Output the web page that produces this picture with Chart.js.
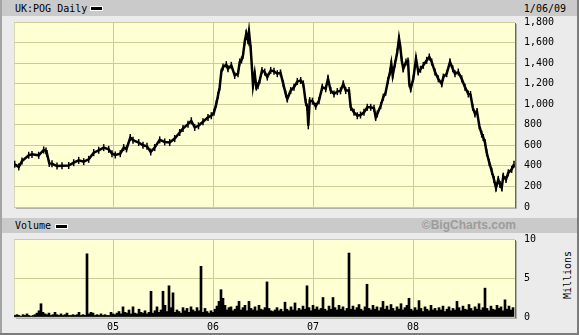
<!DOCTYPE html>
<html>
<head>
<meta charset="utf-8">
<script src="https://cdn.jsdelivr.net/npm/chart.js@4.4.1/dist/chart.umd.min.js"></script>
<style>
  html, body { margin: 0; padding: 0; background: #fff; }
  #wrap { position: relative; width: 579px; height: 335px; background: #ebebeb; overflow: hidden;
          font-family: "DejaVu Sans Mono", monospace; font-size: 10px; color: #000; }
  .abs { position: absolute; }
  .hdr { position: absolute; left: 2px; right: 2px; background: #cacaca; }
  .plot { position: absolute; background: #ffffd4;
          border-top: 1px solid #d8d8b8; border-left: 1px solid #d8d8b8; box-sizing: border-box;
          box-shadow: 1px 1px 0 #666, 2px 2px 0 #b0b0b0; }
  .swatch { position: absolute; width: 11px; height: 3px; background: #000; border: 1px solid #fff; }
  canvas { position: absolute; left: 0; top: 0; }
</style>
</head>
<body>
<div id="wrap">
  <div class="hdr" style="top:0;height:16px"></div>
  <div class="hdr" style="top:218px;height:15px"></div>
  <div class="abs" style="left:0;top:0;width:2px;height:335px;background:#a4a4a4"></div>
  <div class="abs" style="right:0;top:0;width:2px;height:335px;background:#7c7c7c"></div>
  <div class="abs" style="left:0;bottom:0;width:579px;height:2px;background:#7c7c7c"></div>

  <div class="plot" style="left:14px;top:22px;width:501px;height:185px"></div>
  <div class="plot" style="left:14px;top:239px;width:501px;height:78px"></div>

  <div class="abs" style="left:15px;top:1px;line-height:16px">UK:POG Daily</div>
  <div class="swatch" style="left:90px;top:6px"></div>
  <div class="abs" style="right:13px;top:1px;line-height:16px">1/06/09</div>

  <div class="abs" style="left:15px;top:218px;line-height:16px">Volume</div>
  <div class="swatch" style="left:55px;top:224px"></div>
  <div class="abs" style="right:63px;top:218px;line-height:15px;font-family:'Liberation Sans',Arial,sans-serif;font-weight:bold;font-size:12px;color:#9c9c9c">&copy;BigCharts.com</div>

  <div class="abs" style="left:567px;top:275px;transform:translate(-50%,-50%) rotate(-90deg);white-space:nowrap">Millions</div>

  <canvas id="price" width="579" height="335"></canvas>
  <canvas id="volume" width="579" height="335"></canvas>
</div>

<script>
// price, pence (daily close, sampled), dates as decimal years
const priceDates = [
  2004.017, 2004.057, 2004.090, 2004.157, 2004.190, 2004.257, 2004.307, 2004.330, 2004.340, 2004.363,
  2004.390, 2004.440, 2004.490, 2004.557, 2004.607, 2004.657, 2004.707, 2004.757, 2004.807, 2004.857,
  2004.907, 2004.957, 2004.990, 2005.023, 2005.073, 2005.107, 2005.135, 2005.173, 2005.200, 2005.257,
  2005.300, 2005.340, 2005.377, 2005.417, 2005.467, 2005.517, 2005.567, 2005.617, 2005.667, 2005.700,
  2005.750, 2005.783, 2005.817, 2005.855, 2005.900, 2005.950, 2005.983, 2006.010, 2006.033, 2006.050,
  2006.067, 2006.083, 2006.100, 2006.133, 2006.150, 2006.183, 2006.217, 2006.250, 2006.267, 2006.285,
  2006.300, 2006.317, 2006.333, 2006.350, 2006.360, 2006.377, 2006.390, 2006.400, 2006.417, 2006.433,
  2006.450, 2006.467, 2006.490, 2006.517, 2006.543, 2006.577, 2006.610, 2006.643, 2006.675, 2006.703,
  2006.727, 2006.743, 2006.777, 2006.810, 2006.843, 2006.877, 2006.903, 2006.927, 2006.943, 2006.953,
  2006.967, 2006.995, 2007.027, 2007.060, 2007.093, 2007.127, 2007.150, 2007.177, 2007.210, 2007.243,
  2007.275, 2007.303, 2007.327, 2007.360, 2007.377, 2007.410, 2007.443, 2007.475, 2007.510, 2007.543,
  2007.577, 2007.610, 2007.627, 2007.643, 2007.677, 2007.703, 2007.727, 2007.750, 2007.770, 2007.783,
  2007.797, 2007.820, 2007.843, 2007.860, 2007.873, 2007.887, 2007.903, 2007.930, 2007.950, 2007.963,
  2007.977, 2008.003, 2008.030, 2008.053, 2008.075, 2008.103, 2008.137, 2008.163, 2008.187, 2008.220,
  2008.253, 2008.287, 2008.303, 2008.337, 2008.370, 2008.397, 2008.420, 2008.453, 2008.487, 2008.520,
  2008.553, 2008.575, 2008.597, 2008.620, 2008.640, 2008.663, 2008.687, 2008.703, 2008.720, 2008.737,
  2008.763, 2008.787, 2008.810, 2008.830, 2008.853, 2008.870, 2008.887, 2008.903, 2008.930, 2008.953,
  2008.987, 2009.010
];
const priceValues = [
  415, 390, 447, 503, 512, 503, 555, 545, 520, 424,
  420, 398, 402, 404, 431, 454, 441, 464, 529, 552,
  578, 561, 519, 506, 519, 578, 565, 676, 650, 627,
  601, 590, 535, 578, 653, 633, 627, 666, 725, 764,
  806, 839, 774, 790, 829, 872, 888, 921, 1003, 1084,
  1166, 1313, 1362, 1385, 1345, 1378, 1280, 1297, 1411, 1430,
  1476, 1607, 1689, 1623, 1705, 1542, 1345, 1182, 1297, 1166,
  1180, 1231, 1329, 1313, 1264, 1329, 1320, 1297, 1305, 1198,
  1100, 1051, 1133, 1166, 1221, 1231, 1198, 1019, 970, 790,
  1035, 1030, 980, 1035, 1166, 1150, 1247, 1133, 1100, 1123,
  1130, 1198, 1133, 1133, 970, 921, 888, 895, 921, 970,
  970, 960, 872, 905, 986, 1068, 1117, 1231, 1313, 1394,
  1280, 1394, 1509, 1640, 1560, 1427, 1345, 1411, 1420, 1198,
  1150, 1247, 1444, 1313, 1340, 1378, 1427, 1460, 1411, 1313,
  1247, 1198, 1264, 1297, 1411, 1345, 1297, 1313, 1247, 1166,
  1100, 1095, 970, 905, 930, 790, 709, 676, 627, 529,
  431, 349, 268, 186, 268, 219, 186, 300, 268, 333,
  366, 415
];

// volume in millions, one value per ~week starting early Jan 2004
const volumeStart = 2004.02;
const volumeStep = 0.02;
const volumeValues = [
  0.2, 0.3, 0.2, 0.1, 0.3, 0.2, 0.4, 0.2, 0.1, 0.2,
  0.3, 0.5, 0.8, 1.7, 0.6, 0.4, 0.3, 0.5, 0.2, 0.3,
  0.6, 0.3, 0.2, 0.4, 0.2, 0.3, 0.5, 0.2, 0.2, 0.3,
  0.2, 0.3, 0.6, 0.2, 0.3, 0.2, 8.1, 0.4, 0.6, 0.5,
  0.2, 0.3, 0.2, 0.4, 0.2, 0.3, 0.2, 0.2, 0.6, 0.4,
  0.3, 0.5, 0.7, 0.4, 1.3, 0.6, 0.5, 0.9, 0.4, 1.3,
  0.5, 0.4, 1.0, 0.6, 0.5, 0.8, 0.4, 0.6, 3.3, 0.5,
  0.8, 1.3, 0.6, 0.9, 3.3, 1.5, 0.7, 4.0, 1.2, 3.1,
  0.6, 0.9, 0.7, 0.5, 1.2, 0.8, 1.1, 0.6, 1.3, 0.9,
  0.7, 1.2, 0.8, 6.5, 0.6, 1.1, 0.7, 0.5, 0.8, 0.6,
  1.0, 1.4, 2.0, 3.5, 2.4, 1.5, 0.9, 1.2, 1.3, 0.8,
  1.0, 1.4, 2.0, 0.9, 1.2, 1.5, 0.8, 2.0, 1.1, 0.9,
  1.3, 0.8, 1.5, 1.0, 0.9, 1.2, 4.5, 1.1, 0.8, 0.7,
  0.9, 1.2, 0.8, 1.0, 0.7, 1.9, 1.0, 0.8, 1.3, 0.9,
  1.8, 0.8, 1.1, 0.9, 1.4, 1.0, 4.0, 1.2, 0.8, 1.5,
  1.0, 1.3, 0.9, 1.1, 2.5, 1.0, 0.8, 1.4, 1.0, 2.5,
  1.2, 0.9, 1.5, 1.0, 1.3, 0.8, 1.1, 8.2, 1.0, 1.4,
  0.9, 1.2, 1.6, 1.0, 0.8, 1.3, 4.2, 1.1, 0.9, 1.5,
  1.0, 1.3, 0.8, 1.2, 2.0, 1.0, 1.4, 0.9, 1.6, 1.1,
  0.8, 1.3, 1.0, 1.7, 0.9, 1.2, 1.5, 2.4, 1.0, 0.8,
  1.2, 0.9, 2.1, 1.1, 0.7, 1.3, 1.0, 0.8, 1.5, 0.9,
  1.1, 0.8, 1.2, 0.9, 1.4, 0.7, 1.0, 1.3, 0.8, 1.1,
  0.9, 2.0, 1.2, 0.8, 1.4, 1.0, 0.9, 1.6, 1.1, 0.8,
  1.3, 1.0, 1.7, 0.9, 1.2, 3.7, 1.1, 0.8, 1.4, 1.0,
  0.9, 1.5, 1.1, 1.3, 0.8, 2.2, 1.0, 1.4, 0.9, 1.2
];

const yearTicks = [2005, 2006, 2007, 2008];
const priceTicks = [0, 200, 400, 600, 800, 1000, 1200, 1400, 1600, 1800];
const volumeTicks = [0, 5, 10];
const xMin = 2004.01;
const xMax = 2009.02;

const gridColor = "#cccc99";
const tickFont = { family: "DejaVu Sans Mono", size: 10 };

function fixedTicks(list) {
  return function (scale) {
    scale.ticks = list.map(function (v) { return { value: v }; });
  };
}

new Chart(document.getElementById("price"), {
  type: "line",
  data: {
    datasets: [{
      data: priceDates.map(function (d, i) { return { x: d, y: priceValues[i] }; }),
      borderColor: "#000",
      borderWidth: 2.5,
      // short vertical ticks on each sample, like the daily high-low bars
      pointStyle: "line",
      rotation: 90,
      pointRadius: 3.5,
      pointBorderWidth: 1.5,
      pointBorderColor: "#000",
      tension: 0,
    }],
  },
  options: {
    responsive: false,
    animation: false,
    layout: { padding: { left: 14, top: 22, right: 0, bottom: 128 } },
    plugins: { legend: { display: false }, tooltip: { enabled: false } },
    scales: {
      x: {
        type: "linear", min: xMin, max: xMax, offset: false,
        afterBuildTicks: fixedTicks(yearTicks),
        afterFit: function (s) { s.height = 0; },
        ticks: { display: false },
        grid: { color: gridColor, drawTicks: false },
        border: { display: false },
      },
      y: {
        position: "right", min: 0, max: 1800,
        afterBuildTicks: fixedTicks(priceTicks),
        afterFit: function (s) { s.width = 64; },
        ticks: {
          padding: 9, color: "#000", font: tickFont,
          callback: function (v) { return v.toLocaleString("en-US"); },
        },
        grid: { color: gridColor, drawTicks: false },
        border: { display: false },
      },
    },
  },
});

new Chart(document.getElementById("volume"), {
  type: "bar",
  data: {
    datasets: [{
      data: volumeValues.map(function (v, i) { return { x: volumeStart + i * volumeStep, y: v }; }),
      backgroundColor: "#000",
      borderWidth: 0,
      barPercentage: 1,
      categoryPercentage: 1,
    }],
  },
  options: {
    responsive: false,
    animation: false,
    layout: { padding: { left: 14, top: 239, right: 0, bottom: 0 } },
    plugins: { legend: { display: false }, tooltip: { enabled: false } },
    scales: {
      x: {
        type: "linear", min: xMin, max: xMax, offset: false,
        afterBuildTicks: fixedTicks(yearTicks),
        afterFit: function (s) { s.height = 18; },
        ticks: {
          padding: 4, color: "#000", font: tickFont, maxRotation: 0, autoSkip: false,
          callback: function (v) { return String(v).slice(2); },
        },
        grid: { color: gridColor, drawTicks: false, offset: false },
        border: { display: false },
      },
      y: {
        position: "right", min: 0, max: 10,
        afterBuildTicks: fixedTicks(volumeTicks),
        afterFit: function (s) { s.width = 64; },
        ticks: { padding: 9, color: "#000", font: tickFont },
        grid: { color: gridColor, drawTicks: false },
        border: { display: false },
      },
    },
  },
});
</script>
</body>
</html>
